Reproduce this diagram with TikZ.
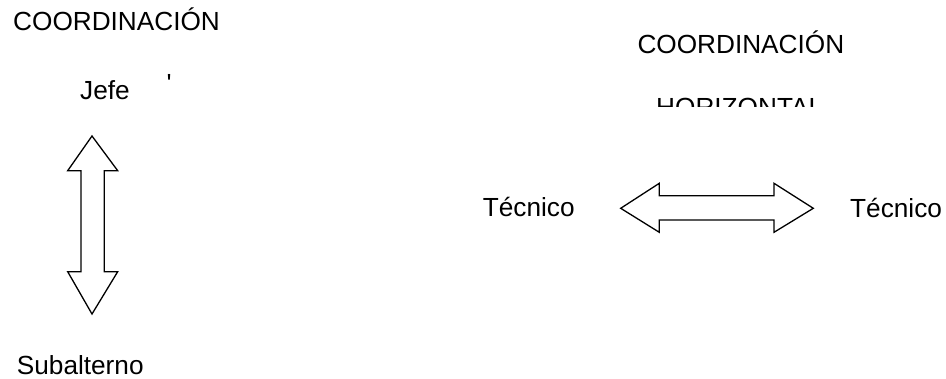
\documentclass[tikz,border=0pt]{standalone}
\usepackage{fontspec}
\setmainfont{Liberation Sans}
\newfontfamily\rawfont{Liberation Sans}[Ligatures=TeXOff]
\begin{document}
\begin{tikzpicture}[x=1pt,y=-1pt,
  lbl/.style={anchor=base west,inner sep=0pt,font=\fontsize{26.2}{30}\selectfont},
  blockarrow/.style={draw=black,line width=1.3pt,fill=white,line join=miter}]
\useasboundingbox (0,0) rectangle (946,379);
\node[lbl] (coordv) at (13,30.7) {COORDINACIÓN};
\node[lbl] (jefe) at (80,100) {Jefe};
\node[lbl] (tick) at (166.5,92.8) {\rawfont '};
\node[lbl] (coordh) at (637.3,53.3) {COORDINACIÓN};
\begin{scope}
\clip (600,80) rectangle (900,106.5);
\node[lbl] (horiz) at (656,116.5) {HORIZONTAL};
\end{scope}
\node[lbl] (tec1) at (482.7,217) {Técnico};
\node[lbl] (tec2) at (850,217.5) {Técnico};
\node[lbl] (sub) at (16.7,375) {Subalterno};
% vertical double block arrow
\draw[blockarrow] (92,136) -- (117.7,170.7) -- (104.3,170.7) -- (104.3,271.7) -- (117.7,271.7)
  -- (92,314) -- (67.7,271.7) -- (81,271.7) -- (81,170.7) -- (67.7,170.7) -- cycle;
% horizontal double block arrow
\draw[blockarrow] (620.7,208.3) -- (659.3,183.3) -- (659.3,195.7) -- (774,195.7) -- (774,183.3)
  -- (813.3,208.3) -- (774,232.3) -- (774,220) -- (659.3,220) -- (659.3,232.3) -- cycle;
\end{tikzpicture}
\end{document}
